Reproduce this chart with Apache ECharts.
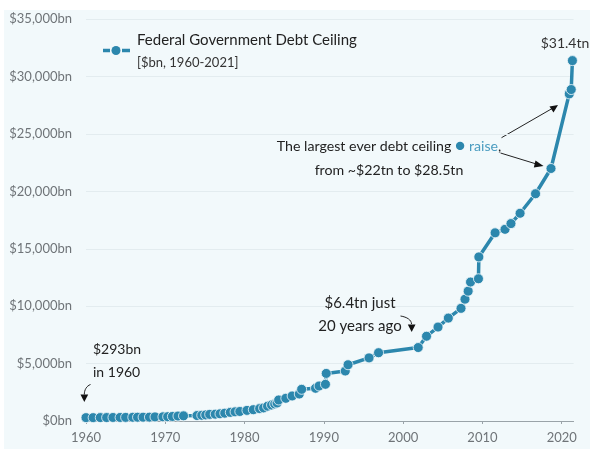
<!DOCTYPE html>
<html>
<head>
<meta charset="utf-8">
<script src="https://cdn.jsdelivr.net/npm/echarts@6/dist/echarts.min.js"></script>
<style>
  html, body { margin: 0; padding: 0; background: #ffffff; }
  #panel { position: absolute; left: 4px; top: 10px; width: 586px; height: 439px; background: #f2f9fb; }
  #container { position: absolute; left: 0; top: 0; width: 590px; height: 449px; }
</style>
</head>
<body>
<div id="panel"></div>
<div id="container"></div>
<script>
// 债务上限数据（年份，十亿美元）
var years = [
  1960.0, 1960.9, 1961.8, 1962.6, 1963.4, 1964.3, 1965.0, 1965.9, 1966.5, 1967.2,
  1968.0, 1968.7, 1969.7, 1970.3, 1970.9, 1971.6, 1972.3,
  1974.0, 1974.6, 1975.1, 1975.6, 1976.3, 1976.9, 1977.5, 1978.2, 1978.8, 1979.4,
  1980.3, 1981.1, 1981.9, 1982.4, 1982.9, 1983.4, 1983.8, 1984.1, 1984.3,
  1985.2, 1986.0, 1986.9, 1987.2, 1988.95, 1989.4, 1990.2, 1990.3,
  1992.7, 1993.05, 1995.7, 1996.9, 2001.9, 2002.95, 2004.4, 2005.7,
  2007.3, 2007.8, 2008.2, 2008.5, 2009.5, 2009.55,
  2011.6, 2012.85, 2013.6, 2014.75, 2016.7, 2018.65, 2020.95, 2021.2, 2021.35
];
var ceilingBn = [
  293, 293, 298, 300, 308, 309, 315, 324, 328, 330,
  336, 358, 365, 377, 395, 430, 450,
  475, 495, 531, 577, 595, 627, 682, 752, 798, 830,
  925, 985, 1079, 1143, 1290, 1389, 1490, 1573, 1830,
  1977, 2180, 2350, 2760, 2850, 3050, 3195, 4145,
  4355, 4900, 5500, 5950, 6400, 7384, 8184, 8965,
  9815, 10615, 11315, 12104, 12394, 14294,
  16394, 16700, 17200, 18100, 19800, 22000, 28500, 28880, 31400
];
// 坐标轴刻度
var xTicks = [1960, 1970, 1980, 1990, 2000, 2010, 2020];
var yTicks = [0, 5000, 10000, 15000, 20000, 25000, 30000, 35000];

var lineColor = '#2c87ad';
var bgColor = '#f2f9fb';
var fontName = 'Lato, "Open Sans", sans-serif';

var seriesData = [];
for (var i = 0; i < years.length; i++) {
  seriesData.push([years[i], ceilingBn[i]]);
}

function fmtBn(v) {
  return '$' + v.toString().replace(/\B(?=(\d{3})+(?!\d))/g, ',') + 'bn';
}

var dom = document.getElementById('container');
var myChart = echarts.init(dom, null, { renderer: 'canvas' });

var option = {
  animation: false,
  backgroundColor: 'transparent',
  textStyle: { fontFamily: fontName },
  grid: { left: 86, right: 16.4, top: 19.3, bottom: 28 },
  xAxis: {
    type: 'value',
    min: xTicks[0],
    max: 2021.5,
    interval: 10,
    axisLine: { show: true, lineStyle: { color: '#9aa3a8', width: 1 } },
    axisTick: { show: true, length: 3, lineStyle: { color: '#9aa3a8' } },
    axisLabel: {
      color: '#6f7478', fontSize: 13, margin: 10, showMaxLabel: false, fontFamily: fontName,
      formatter: function(v) { return String(v); }
    },
    splitLine: { show: false }
  },
  yAxis: {
    type: 'value',
    min: yTicks[0],
    max: yTicks[yTicks.length - 1],
    interval: 5000,
    axisLine: { show: false },
    axisTick: { show: false },
    axisLabel: { color: '#6f7478', fontSize: 13, margin: 14, formatter: fmtBn, fontFamily: fontName },
    splitLine: { show: true, lineStyle: { color: '#e3ecef', width: 1 } }
  },
  series: [{
    type: 'line',
    data: seriesData,
    symbol: 'circle',
    symbolSize: 10,
    lineStyle: { color: lineColor, width: 3.5 },
    itemStyle: { color: lineColor, borderColor: bgColor, borderWidth: 0.8 },
    z: 3
  }],
  graphic: [
    // 图例
    { type: 'line', shape: { x1: 103, y1: 50.5, x2: 110, y2: 50.5 }, style: { stroke: lineColor, lineWidth: 3.5 } },
    { type: 'line', shape: { x1: 122, y1: 50.5, x2: 130, y2: 50.5 }, style: { stroke: lineColor, lineWidth: 3.5 } },
    { type: 'circle', shape: { cx: 116, cy: 50.5, r: 4.5 }, style: { fill: lineColor } },
    { type: 'text', left: 137, top: 33, style: { text: 'Federal Government Debt Ceiling', fill: '#222', font: '15px ' + fontName } },
    { type: 'text', left: 137, top: 56, style: { text: '[$bn, 1960-2021]', fill: '#333', font: '13px ' + fontName } },
    // 标注
    { type: 'text', x: 565, y: 43, style: { text: '$31.4tn', fill: '#333', font: '14px ' + fontName, align: 'center', verticalAlign: 'middle' } },
    { type: 'text', x: 389, y: 146, style: {
        text: 'The largest ever debt ceiling {d|●} {r|raise},', fill: '#222', font: '14.2px ' + fontName,
        align: 'center', verticalAlign: 'middle',
        rich: { d: { fill: lineColor, font: '17px ' + fontName, lineHeight: 18 }, r: { fill: '#4a9cc0', font: '14.2px ' + fontName } }
    } },
    { type: 'text', x: 389, y: 170.5, style: { text: 'from ~$22tn to $28.5tn', fill: '#222', font: '14.2px ' + fontName, align: 'center', verticalAlign: 'middle' } },
    { type: 'line', shape: { x1: 501.5, y1: 137.7, x2: 553, y2: 108 }, style: { stroke: '#222', lineWidth: 1 } },
    { type: 'polygon', shape: { points: [[558, 105], [549.5, 106.5], [553.5, 112.5]] }, style: { fill: '#111' } },
    { type: 'line', shape: { x1: 500.5, y1: 153, x2: 538, y2: 164.5 }, style: { stroke: '#222', lineWidth: 1 } },
    { type: 'polygon', shape: { points: [[543.5, 166], [535.5, 160.5], [533.8, 167.5]] }, style: { fill: '#111' } },

    { type: 'text', x: 360, y: 303.5, z: 10, style: { text: '$6.4tn just', fill: '#222', font: '15px ' + fontName, align: 'center', verticalAlign: 'middle', backgroundColor: bgColor } },
    { type: 'text', x: 360, y: 326, style: { text: '20 years ago', fill: '#222', font: '15px ' + fontName, align: 'center', verticalAlign: 'middle' } },
    { type: 'bezierCurve', shape: { x1: 400.5, y1: 316, cpx1: 407, cpy1: 317, x2: 411.5, y2: 324, cpx2: 411.5, cpy2: 320 }, style: { stroke: '#222', lineWidth: 1, fill: null } },
    { type: 'polygon', shape: { points: [[411.7, 332], [407.8, 324.5], [415.5, 324.5]] }, style: { fill: '#111' } },

    { type: 'text', left: 93, top: 342, style: { text: '$293bn', fill: '#222', font: '14px ' + fontName } },
    { type: 'text', left: 93, top: 365, style: { text: 'in 1960', fill: '#222', font: '14px ' + fontName } },
    { type: 'bezierCurve', shape: { x1: 90.5, y1: 384.5, cpx1: 86.5, cpy1: 386, x2: 84.3, y2: 394.5, cpx2: 84.3, cpy2: 390 }, style: { stroke: '#222', lineWidth: 1, fill: null } },
    { type: 'polygon', shape: { points: [[84.3, 402], [80.5, 394.5], [88.2, 394.5]] }, style: { fill: '#111' } }
  ]
};

myChart.setOption(option);
</script>
</body>
</html>
